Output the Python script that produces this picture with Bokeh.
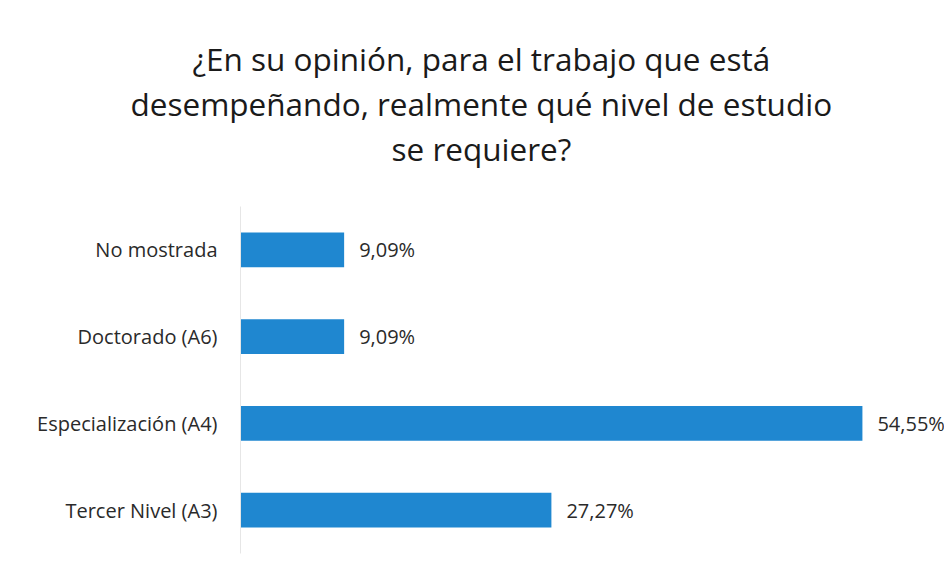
from bokeh.plotting import figure
from bokeh.models import FactorRange, Range1d, Title, ColumnDataSource
from bokeh.core.properties import value
from bokeh.embed import file_html
from bokeh.resources import INLINE

categories = ["Tercer Nivel (A3)", "Especialización (A4)", "Doctorado (A6)", "No mostrada"]
percentages = [27.27, 54.55, 9.09, 9.09]
value_labels = ["27,27%", "54,55%", "9,09%", "9,09%"]
title_lines = ["¿En su opinión, para el trabajo que está",
               "desempeñando, realmente qué nivel de estudio",
               "se requiere?"]
title_offsets = [-48, -110, 151]

src = ColumnDataSource(dict(cat=categories, val=percentages, lab=value_labels))

p = figure(width=944, height=575, output_backend="svg", toolbar_location=None,
           y_range=FactorRange(*categories, range_padding=0),
           x_range=Range1d(0, 61.75),
           min_border_left=240, min_border_right=0, min_border_bottom=22, min_border_top=206)

# spacer between title and plot area
p.add_layout(Title(text=" ", text_font_size="1px", standoff=34), "above")
for line, off in reversed(list(zip(title_lines, title_offsets))):
    t = Title(text=line, align="left", offset=off, text_font="Open Sans",
              text_font_size="31.5px", text_font_style="normal", text_color="#1a1a1a",
              standoff=0)
    p.add_layout(t, "above")

p.hbar(y="cat", right="val", left=0, height=0.4, source=src, color="#1f87d0", line_color=None)
p.text(x="val", y="cat", text="lab", source=src, x_offset=15, text_baseline="middle",
       text_font=value("Open Sans"), text_font_size="20px", text_color="#2a2a2a")

p.xaxis.visible = False
p.xgrid.visible = False
p.ygrid.visible = False
p.outline_line_color = None
p.yaxis.axis_line_color = "#e6e6e6"
p.yaxis.major_tick_line_color = None
p.yaxis.minor_tick_line_color = None
p.yaxis.major_label_standoff = 17
p.yaxis.major_label_text_font = "Open Sans"
p.yaxis.major_label_text_font_size = "20px"
p.yaxis.major_label_text_color = "#2a2a2a"

open("out.html", "w").write(file_html(p, INLINE))
